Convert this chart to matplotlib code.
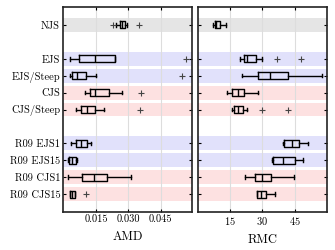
import matplotlib
matplotlib.use("Agg")
import matplotlib.pyplot as plt

plt.rcParams['font.family'] = 'serif'
plt.rcParams['font.serif'] = ['cmr10', 'DejaVu Serif']
plt.rcParams['axes.formatter.use_mathtext'] = True

# rows, top to bottom
labels = ["NJS", "EJS", "EJS/Steep", "CJS", "CJS/Steep",
          "R09 EJS1", "R09 EJS15", "R09 CJS1", "R09 CJS15"]
groups = ["njs", "ejs", "ejs", "cjs", "cjs", "ejs", "ejs", "cjs", "cjs"]
positions = [0, 2, 3, 4, 5, 7, 8, 9, 10]

# AMD box statistics
amd_whislo = [0.0240, 0.0026, 0.0026, 0.0096, 0.0054, 0.0034, 0.0020, 0.0017, 0.0026]
amd_q1 = [0.0260, 0.0071, 0.0037, 0.0119, 0.0080, 0.0054, 0.0023, 0.0082, 0.0026]
amd_med = [0.0271, 0.0144, 0.0059, 0.0142, 0.0108, 0.0080, 0.0037, 0.0138, 0.0037]
amd_q3 = [0.0284, 0.0239, 0.0104, 0.0208, 0.0144, 0.0107, 0.0054, 0.0201, 0.0049]
amd_whishi = [0.0293, 0.0239, 0.0147, 0.0271, 0.0186, 0.0125, 0.0060, 0.0313, 0.0049]
amd_fliers = [[0.0228, 0.0350], [0.0569], [0.0549], [0.0360], [0.0352], [], [], [], [0.0104]]

# RMC box statistics
rmc_whislo = [7.1, 19.5, 20.3, 13.5, 15.6, 39.7, 34.6, 21.8, 27.3]
rmc_q1 = [7.7, 21.2, 27.7, 15.9, 16.7, 40.2, 35.0, 26.5, 27.3]
rmc_med = [8.6, 22.9, 33.3, 18.4, 18.6, 43.7, 39.7, 29.6, 29.3]
rmc_q3 = [10.2, 27.1, 41.9, 21.5, 20.8, 47.1, 45.1, 34.0, 31.5]
rmc_whishi = [13.1, 29.9, 57.6, 28.1, 22.6, 51.3, 49.0, 44.7, 35.8]
rmc_fliers = [[], [36.6, 47.9], [], [], [29.6, 42.0], [], [], [], []]

band_colors = {"njs": "#e5e5e5", "ejs": "#e1e1fb", "cjs": "#fde1e1"}


def make_stats(lo, q1, med, q3, hi, fl):
    return [dict(whislo=a, q1=b, med=c, q3=d, whishi=e, fliers=f, label=l)
            for a, b, c, d, e, f, l in zip(lo, q1, med, q3, hi, fl, labels)]


def draw(ax, stats, xlim, xticks, xlabel):
    for p, g in zip(positions, groups):
        ax.axhspan(p - 0.41, p + 0.41, color=band_colors[g], lw=0, zorder=0)
    ax.bxp(stats, positions=positions, vert=False, widths=0.42,
           patch_artist=False, manage_ticks=False,
           boxprops=dict(color='k', lw=1.0),
           medianprops=dict(color='k', lw=1.0),
           whiskerprops=dict(color='k', lw=1.0),
           capprops=dict(color='k', lw=1.0),
           flierprops=dict(marker='+', markeredgecolor='#444444',
                           markersize=5, markeredgewidth=0.8, linestyle='none'))
    ax.set_xlim(*xlim)
    ax.set_ylim(10 + 1.06, -1.06)
    ax.set_xticks(xticks)
    ax.set_yticks(positions)
    ax.grid(axis='x', color='#dddddd', lw=0.8, zorder=0.5)
    ax.set_axisbelow(True)
    ax.tick_params(direction='in', top=True, right=True, length=2.5,
                   width=0.8, labelsize=7.5, pad=2)
    for s in ax.spines.values():
        s.set_linewidth(1.2)
        s.set_color('#222222')
    ax.set_xlabel(xlabel, fontsize=9, labelpad=5)


fig = plt.figure(figsize=(3.35, 2.5), dpi=100)
ax1 = fig.add_axes([0.188, 0.152, 0.385, 0.82])
ax2 = fig.add_axes([0.591, 0.152, 0.385, 0.82])

draw(ax1, make_stats(amd_whislo, amd_q1, amd_med, amd_q3, amd_whishi, amd_fliers),
     (-0.0005, 0.0596), [0.015, 0.030, 0.045], "AMD")
ax1.set_yticklabels(labels)
ax1.set_xticklabels(["0.015", "0.030", "0.045"])

draw(ax2, make_stats(rmc_whislo, rmc_q1, rmc_med, rmc_q3, rmc_whishi, rmc_fliers),
     (0, 60), [15, 30, 45], "RMC")
ax2.set_yticklabels([])

fig.savefig("out.png", dpi=100)
